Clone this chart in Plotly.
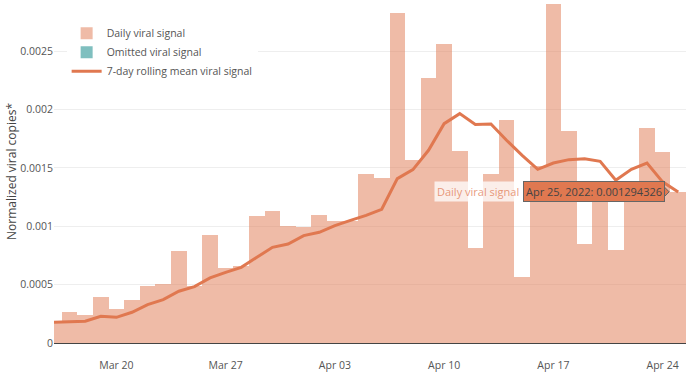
import plotly.graph_objects as go
import pandas as pd

dates = pd.date_range("2022-03-16", "2022-04-25", freq="D").strftime("%Y-%m-%d").tolist()

daily_signal = [
    0.000177, 0.000263, 0.000243, 0.000391, 0.000294, 0.000366, 0.000488, 0.000505,
    0.000785, 0.000485, 0.000922, 0.000640, 0.000663, 0.001088, 0.001128, 0.000999,
    0.000991, 0.001093, 0.001042, 0.001042, 0.001444, 0.001413, 0.002829, 0.001564,
    0.002269, 0.002563, 0.001641, 0.000810, 0.001444, 0.001907, 0.000568, 0.001515,
    0.002906, 0.001813, 0.000848, 0.001310, 0.000800, 0.001250, 0.001838, 0.001633,
    0.001294326,
]

rolling_mean = [
    0.000177, 0.000180, 0.000186, 0.000229, 0.000220, 0.000263, 0.000329, 0.000371,
    0.000443, 0.000483, 0.000557, 0.000605, 0.000648, 0.000734, 0.000819, 0.000848,
    0.000920, 0.000948, 0.001005, 0.001050, 0.001093, 0.001145, 0.001407, 0.001485,
    0.001650, 0.001878, 0.001964, 0.001872, 0.001875, 0.001736, 0.001607, 0.001487,
    0.001541, 0.001570, 0.001577, 0.001556, 0.001393, 0.001487, 0.001541, 0.001380,
    0.001293,
]

# no omitted days in this window (legend entry only)
omitted_dates = [None]
omitted_values = [None]

y_ticks = [0, 0.0005, 0.001, 0.0015, 0.002, 0.0025]
y_tick_labels = ["0", "0.0005", "0.001", "0.0015", "0.002", "0.0025"]
x_ticks = ["2022-03-20", "2022-03-27", "2022-04-03", "2022-04-10", "2022-04-17", "2022-04-24"]
x_tick_labels = ["Mar 20", "Mar 27", "Apr 03", "Apr 10", "Apr 17", "Apr 24"]

LINE = "#e07850"
BAR = "rgba(224,120,80,0.5)"
TEAL = "rgba(0,128,128,0.5)"
FONT = "Open Sans"

fig = go.Figure()
fig.add_trace(go.Bar(
    x=dates, y=daily_signal, name="Daily viral signal",
    marker=dict(color=BAR, line=dict(width=0)),
))
fig.add_trace(go.Bar(
    x=omitted_dates, y=omitted_values, name="Omitted viral signal",
    marker=dict(color=TEAL, line=dict(width=0)),
))
fig.add_trace(go.Scatter(
    x=dates, y=rolling_mean, name="7-day rolling mean viral signal",
    mode="lines", line=dict(color=LINE, width=3),
))

# hover-style label seen in the reference (last daily value)
last_x = dates[-1]
last_y = daily_signal[-1]
label_text = "Apr 25, 2022: " + f"{last_y:.9f}"
fig.add_annotation(
    x=last_x, y=last_y, xref="x", yref="y", text=label_text, showarrow=False,
    xanchor="right", yanchor="middle", xshift=-13,
    font=dict(family=FONT, size=11, color="#444"),
    bgcolor=LINE, bordercolor="#666", borderwidth=1, borderpad=2,
)
fig.add_annotation(
    x=last_x, y=last_y, xref="x", yref="y", text="Daily viral signal", showarrow=False,
    xanchor="right", yanchor="middle", xshift=-156,
    font=dict(family=FONT, size=11, color="rgba(224,120,80,0.75)"),
    bgcolor="rgba(255,255,255,0.75)", borderpad=2,
)
fig.add_shape(
    type="path", xref="x", yref="y", xsizemode="pixel", ysizemode="pixel",
    xanchor=last_x, yanchor=last_y,
    path="M -14,5 L -9,0 L -14,-5 Z",
    fillcolor=LINE, line=dict(color="#666", width=1),
)

fig.update_layout(
    width=686, height=374,
    margin=dict(l=54, r=0, t=0, b=31, autoexpand=False),
    paper_bgcolor="white", plot_bgcolor="white",
    bargap=0, barmode="overlay",
    font=dict(family=FONT, size=10.5, color="#555"),
    showlegend=True,
    legend=dict(
        x=0.02, y=0.945, xanchor="left", yanchor="top",
        bgcolor="white", font=dict(family=FONT, size=10.5, color="#555"),
        traceorder="normal",
    ),
    hovermode="closest",
)
fig.update_xaxes(
    range=["2022-03-16", "2022-04-25 12:00"],
    tickvals=x_ticks, ticktext=x_tick_labels,
    showgrid=False, showline=True, linecolor="#444", linewidth=1,
    ticks="outside", ticklen=12, tickcolor="rgba(0,0,0,0)",
    tickfont=dict(family=FONT, size=10.5, color="#555"),
    zeroline=False, automargin=False,
)
fig.update_yaxes(
    range=[0, 0.002937],
    tickvals=y_ticks, ticktext=y_tick_labels,
    showgrid=True, gridcolor="#eeeeee", gridwidth=1,
    zeroline=False, showline=False, automargin=False,
    tickfont=dict(family=FONT, size=10.5, color="#555"),
    title=dict(text="Normalized viral copies*", standoff=0,
               font=dict(family=FONT, size=12, color="#444")),
)

fig.write_html("out.html", config={"displayModeBar": False},
               post_script="document.body.style.margin='0';")
